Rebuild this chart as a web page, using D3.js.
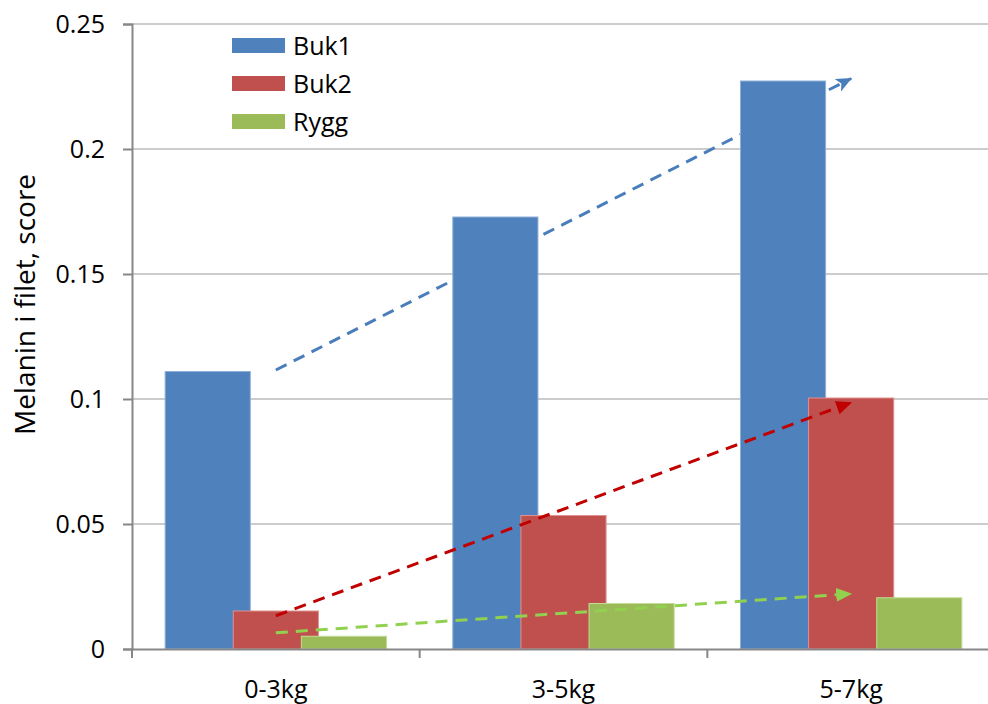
<!DOCTYPE html>
<html>
<head>
<meta charset="utf-8">
<script src="https://cdn.jsdelivr.net/npm/d3@7"></script>
<style>
  body { margin: 0; background: #fff; }
  text { font-family: "Open Sans", sans-serif; fill: #000; }
</style>
</head>
<body>
<svg id="chart" width="988" height="704"></svg>
<script>
// values
var categories = ["0-3kg", "3-5kg", "5-7kg"];
var seriesNames = ["Buk1", "Buk2", "Rygg"];
var buk1 = [0.111, 0.1728, 0.2272];
var buk2 = [0.0152, 0.0534, 0.1004];
var rygg = [0.0051, 0.0182, 0.0205];
var yTicks = [0, 0.05, 0.1, 0.15, 0.2, 0.25];

// dashed trend arrows, from first to last category
var trendFrom = [0.1116, 0.0133, 0.0065];
var trendTo = [0.2282, 0.0986, 0.0221];

var barColors = ["#4F81BD", "#C0504D", "#9BBB59"];
var edgeColors = ["#8fb0da", "#e0908e", "#c3dc95"];
var arrowColors = ["#4a7ebb", "#C00000", "#92D050"];

var margin = {top: 24, right: -7, bottom: 55, left: 132};
var svg = d3.select("#chart");
var width = +svg.attr("width") - margin.left - margin.right;
var height = +svg.attr("height") - margin.top - margin.bottom;
var g = svg.append("g").attr("transform", `translate(${margin.left}, ${margin.top})`);

var x = d3.scaleBand().domain(categories).range([0, width]).padding(0);
var y = d3.scaleLinear().domain([0, 0.25]).range([height, 0]);

var barW = x.bandwidth() * 0.296;
var barStep = barW * 0.8;   // bars overlap a little
var groupW = barStep * 2 + barW;

var series = [buk1, buk2, rygg];

// gridlines
g.append("g").selectAll("line")
  .data(yTicks.filter(d => d > 0))
  .enter().append("line")
  .attr("x1", 0).attr("x2", width)
  .attr("y1", d => y(d)).attr("y2", d => y(d))
  .attr("stroke", "#cccccc").attr("stroke-width", 2);

// y axis
var yAxis = g.append("g")
  .call(d3.axisLeft(y).tickValues(yTicks).tickSize(9).tickPadding(18)
    .tickFormat(d => d3.format("")(+d.toFixed(2))));
yAxis.select(".domain").attr("stroke", "#878787").attr("stroke-width", 2);
yAxis.selectAll(".tick line").attr("stroke", "#878787").attr("stroke-width", 2);
yAxis.selectAll("text").style("font-size", "25px").attr("fill", "#000");

// arrow heads
var defs = svg.append("defs");
arrowColors.forEach((c, i) => {
  defs.append("marker")
    .attr("id", "head" + i)
    .attr("markerUnits", "userSpaceOnUse")
    .attr("viewBox", "0 0 16 14")
    .attr("markerWidth", 16).attr("markerHeight", 14)
    .attr("refX", 15).attr("refY", 7)
    .attr("orient", "auto")
    .append("path")
    .attr("d", i === 0 ? "M0,0 L16,7 L0,14 L4,7 Z" : "M0,0 L16,7 L0,14 Z")
    .attr("fill", c);
});

var trendLine = d3.line()
  .x(d => x(d.cat) + x.bandwidth() / 2)
  .y(d => y(d.v));

function drawTrend(i) {
  g.append("path")
    .datum([{cat: categories[0], v: trendFrom[i]}, {cat: categories[categories.length - 1], v: trendTo[i]}])
    .attr("fill", "none")
    .attr("stroke", arrowColors[i])
    .attr("stroke-width", 3)
    .attr("stroke-dasharray", "12,8")
    .attr("marker-end", `url(#head${i})`)
    .attr("d", trendLine);
}

// blue trend sits behind the bars
drawTrend(0);

// bars
series.forEach((vals, s) => {
  g.append("g").selectAll("rect")
    .data(vals)
    .enter().append("rect")
    .attr("x", (d, i) => x(categories[i]) + (x.bandwidth() - groupW) / 2 + s * barStep)
    .attr("y", d => y(d))
    .attr("width", barW)
    .attr("height", d => y(0) - y(d))
    .attr("fill", barColors[s])
    .attr("stroke", edgeColors[s])
    .attr("stroke-width", 1);
});

drawTrend(1);
drawTrend(2);

// x axis
var xAxis = g.append("g").attr("transform", `translate(0, ${height})`)
  .call(d3.axisBottom(x).tickSize(0).tickPadding(31));
xAxis.select(".domain").attr("stroke", "#878787").attr("stroke-width", 2);
xAxis.selectAll("text").style("font-size", "25px").attr("fill", "#000");

g.append("g").selectAll("line")
  .data(categories)
  .enter().append("line")
  .attr("x1", d => x(d)).attr("x2", d => x(d))
  .attr("y1", height).attr("y2", height + 9)
  .attr("stroke", "#878787").attr("stroke-width", 2);

// y title
svg.append("text")
  .attr("transform", `translate(35, ${margin.top + height / 2 - 32}) rotate(-90)`)
  .attr("text-anchor", "middle")
  .style("font-size", "28px")
  .text("Melanin i filet, score");

// legend
var legend = svg.append("g").attr("transform", "translate(232, 38)");
seriesNames.forEach((name, i) => {
  legend.append("rect")
    .attr("x", 0).attr("y", i * 38)
    .attr("width", 53).attr("height", 15)
    .attr("fill", barColors[i]);
  legend.append("text")
    .attr("x", 61).attr("y", i * 38 + 17)
    .style("font-size", "25px")
    .text(name);
});
</script>
</body>
</html>
